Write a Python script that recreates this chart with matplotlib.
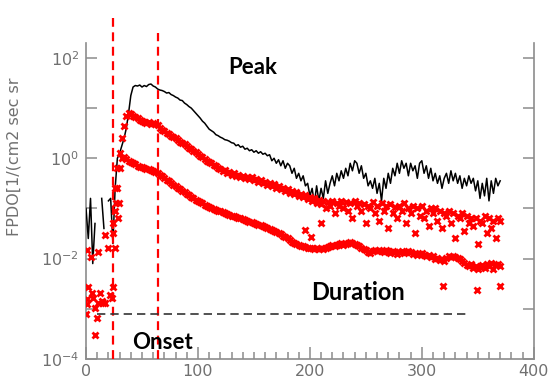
import numpy as np
import matplotlib
matplotlib.use('Agg')
import matplotlib.pyplot as plt
from matplotlib.ticker import FixedLocator, MultipleLocator, FuncFormatter

# ---- data (log10 of flux) ----
black_x = np.arange(0, 372, 2)
black_log = [
    -1.0, -1.6, -0.8, -2.1, -1.3, np.nan, np.nan, -0.8, -1.4, np.nan,
    -0.85, -0.8, -1.7, -0.6, 0.0, 0.1, 0.25, 0.4, 0.6, 0.9,
    1.25, 1.42, 1.45, 1.44, 1.46, 1.42, 1.45, 1.43, 1.47, 1.48,
    1.44, 1.42, 1.38, 1.36, 1.35, 1.33, 1.3, 1.31, 1.27, 1.25,
    1.22, 1.2, 1.16, 1.15, 1.1, 1.07, 1.03, 1.0, 0.95, 0.9,
    0.85, 0.8, 0.74, 0.7, 0.64, 0.58, 0.55, 0.52, 0.47, 0.45,
    0.42, 0.4, 0.37, 0.36, 0.34, 0.31, 0.3, 0.25, 0.27, 0.22,
    0.24, 0.18, 0.2, 0.15, 0.17, 0.12, 0.15, 0.1, 0.13, 0.08,
    0.1, 0.05, 0.07, -0.05, 0.0, -0.1, -0.03, -0.15, -0.05, -0.2,
    -0.1, -0.15, -0.3, -0.2, -0.4, -0.3, -0.45, -0.35, -0.55, -0.5,
    -0.75, -0.6, -0.9, -0.55, -0.85, -0.6, -0.8, -0.45, -0.7, -0.5,
    -0.35, -0.55, -0.3, -0.45, -0.25, -0.4, -0.2, -0.35, -0.1, -0.25,
    -0.05, -0.1, -0.3, -0.15, -0.4, -0.3, -0.55, -0.45, -0.6, -0.4,
    -0.7, -0.5, -0.85, -0.4, -0.6, -0.3, -0.5, -0.2, -0.35, -0.1,
    -0.3, -0.05, -0.2, -0.1, -0.35, -0.1, -0.25, -0.15, -0.4, -0.1,
    -0.05, -0.3, -0.15, -0.4, -0.2, -0.45, -0.3, -0.5, -0.35, -0.6,
    -0.4, -0.3, -0.5, -0.25, -0.45, -0.3, -0.5, -0.35, -0.6, -0.4,
    -0.55, -0.35, -0.5, -0.4, -0.65, -0.45, -0.8, -0.5, -0.75, -0.4,
    -0.85, -0.45, -0.7, -0.4, -0.55, -0.45,
]

upper_x = np.arange(26, 372, 2)
upper_log = [
    -0.6, -0.2, 0.1, 0.4, 0.65, 0.85, 0.9, 0.88, 0.85, 0.82,
    0.8, 0.76, 0.74, 0.72, 0.7, 0.72, 0.68, 0.7, 0.68, 0.66,
    0.6, 0.56, 0.55, 0.5, 0.48, 0.45, 0.43, 0.4, 0.36, 0.33,
    0.3, 0.28, 0.24, 0.2, 0.18, 0.14, 0.12, 0.08, 0.05, 0.02,
    -0.02, -0.05, -0.08, -0.1, -0.14, -0.16, -0.2, -0.22, -0.25, -0.24,
    -0.3, -0.28, -0.33, -0.3, -0.36, -0.33, -0.38, -0.35, -0.4, -0.37,
    -0.42, -0.38, -0.44, -0.42, -0.47, -0.43, -0.5, -0.47, -0.53, -0.5,
    -0.56, -0.52, -0.6, -0.55, -0.62, -0.6, -0.66, -0.62, -0.7, -0.66,
    -0.72, -0.68, -0.76, -0.72, -0.78, -0.74, -0.82, -0.78, -0.86, -0.8,
    -0.9, -0.84, -0.92, -0.86, -1.0, -0.88, -0.95, -0.85, -1.1, -0.9,
    -0.95, -0.85, -1.0, -0.88, -1.05, -0.9, -1.2, -0.86, -0.95, -0.9,
    -1.05, -0.92, -1.3, -0.95, -1.0, -0.88, -1.1, -0.95, -1.25, -0.9,
    -1.05, -0.95, -1.4, -0.92, -1.1, -0.98, -1.2, -0.95, -1.05, -0.9,
    -1.3, -1.0, -1.1, -0.95, -1.5, -1.0, -1.15, -0.95, -1.2, -1.05,
    -1.35, -1.0, -1.1, -1.0, -1.25, -1.05, -1.4, -1.1, -1.15, -1.05,
    -1.3, -1.1, -1.6, -1.15, -1.2, -1.1, -1.45, -1.15, -1.3, -1.2,
    -1.35, -1.2, -1.7, -1.25, -1.3, -1.15, -1.5, -1.2, -1.4, -1.25,
    -1.6, -1.2, -1.25,
]

lower_x = np.arange(28, 372, 2)
lower_log = [
    -0.6, -0.2, 0.0, 0.02, -0.02, -0.05, -0.08, -0.1, -0.12, -0.15,
    -0.17, -0.18, -0.2, -0.21, -0.22, -0.24, -0.26, -0.28, -0.3, -0.33,
    -0.36, -0.4, -0.43, -0.46, -0.5, -0.53, -0.56, -0.59, -0.62, -0.65,
    -0.68, -0.71, -0.74, -0.77, -0.8, -0.83, -0.86, -0.88, -0.9, -0.93,
    -0.95, -0.97, -0.99, -1.01, -1.03, -1.05, -1.06, -1.08, -1.1, -1.11,
    -1.13, -1.15, -1.16, -1.18, -1.2, -1.2, -1.22, -1.24, -1.25, -1.27,
    -1.28, -1.3, -1.31, -1.33, -1.34, -1.36, -1.38, -1.4, -1.42, -1.44,
    -1.46, -1.48, -1.5, -1.52, -1.55, -1.58, -1.6, -1.63, -1.66, -1.68,
    -1.7, -1.72, -1.74, -1.75, -1.77, -1.78, -1.78, -1.79, -1.8, -1.78,
    -1.8, -1.79, -1.8, -1.78, -1.76, -1.74, -1.73, -1.75, -1.72, -1.7,
    -1.69, -1.72, -1.7, -1.68, -1.66, -1.68, -1.7, -1.72, -1.75, -1.78,
    -1.8, -1.83, -1.86, -1.88, -1.85, -1.83, -1.85, -1.82, -1.84, -1.86,
    -1.83, -1.85, -1.88, -1.84, -1.86, -1.9, -1.87, -1.85, -1.88, -1.86,
    -1.84, -1.87, -1.9, -1.88, -1.92, -1.9, -1.88, -1.92, -1.95, -1.92,
    -1.97, -1.95, -2.0, -1.98, -2.02, -2.0, -2.05, -1.98, -1.95, -1.97,
    -1.94, -1.96, -1.98, -2.0, -2.04, -2.08, -2.12, -2.15, -2.1, -2.18,
    -2.14, -2.2, -2.16, -2.12, -2.18, -2.1, -2.15, -2.08, -2.2, -2.12,
    -2.1, -2.15,
]

# scattered background points before onset and a few stray points
stray_x = [0, 0.5, 1, 1, 2, 4, 5, 6, 8, 8, 9.5, 11, 11, 12.5, 14, 15, 17, 17,
           20, 21, 23, 24, 24, 24, 26, 26, 27, 29, 29.5,
           196, 201, 210, 319, 349, 370]
stray_log = [-3.1, -2.9, -1.82, -2.8, -2.56, -1.96, -2.68, -2.78, -2.98, -3.52,
             -3.18, -1.86, -2.88, -2.68, -2.85, -2.88, -1.53, -2.88, -1.78, -2.72,
             -2.78, -1.49, -2.56, -1.3, -1.78, -1.05, -0.9, -1.19, -0.89,
             -1.43, -1.57, -1.29, -2.54, -2.62, -2.54]

onset_x = 24
peak_x = 64
onset_top, peak_top = 10 ** 2.8, 10 ** 2.5
duration_level = 8e-4
duration_span = (10, 343)

# ---- figure ----
plt.rcParams['mathtext.fontset'] = 'dejavusans'
fig = plt.figure(figsize=(5.48, 3.83), dpi=100)
ax = fig.add_axes([0.157, 0.063, 0.817, 0.825])

ax.plot(black_x, 10 ** np.array(black_log), color='black', lw=1.1, zorder=3)

red_kw = dict(ls='none', marker='x', ms=4, mew=2, color='#ff0000', zorder=4)
ax.plot(upper_x, 10 ** np.array(upper_log), **red_kw)
ax.plot(lower_x, 10 ** np.array(lower_log), **red_kw)
ax.plot(stray_x, 10 ** np.array(stray_log), **red_kw)

# onset / peak markers reaching above the frame
ax.plot([onset_x, onset_x], [1e-4, onset_top], color='#ff0000', lw=1.6,
        ls=(0, (4, 2.5)), clip_on=False, zorder=5)
ax.plot([peak_x, peak_x], [1e-4, peak_top], color='#ff0000', lw=1.6,
        ls=(0, (4, 2.5)), clip_on=False, zorder=5)

# duration line
ax.plot(duration_span, [duration_level, duration_level], color='#333333',
        lw=1.2, ls=(0, (5, 3)), zorder=5)

txt_kw = dict(fontfamily='Lato', fontweight='bold', fontsize=16,
              ha='center', va='center', color='black', zorder=6)
ax.text(149, 10 ** 1.8, 'Peak', **txt_kw)
ax.text(68, 10 ** -3.68, 'Onset', **txt_kw)
ax.text(243, 10 ** -2.68, 'Duration', fontsize=17,
        **{k: v for k, v in txt_kw.items() if k != 'fontsize'})

# ---- axes styling (IDL look) ----
ax.set_yscale('log')
ax.set_xlim(0, 400)
ax.set_ylim(1e-4, 10 ** 2.3)

gray = '#8c8c8c'
for side in ['left', 'right', 'bottom']:
    ax.spines[side].set_color(gray)
    ax.spines[side].set_linewidth(1.2)
ax.spines['top'].set_visible(False)

ax.xaxis.set_major_locator(MultipleLocator(100))
ax.xaxis.set_minor_locator(MultipleLocator(10))
ax.yaxis.set_major_locator(FixedLocator([10.0 ** k for k in range(-4, 3)]))
ax.yaxis.set_minor_locator(FixedLocator([]))


def ylab(v, pos):
    k = int(round(np.log10(v)))
    return r'$10^{%d}$' % k if k % 2 == 0 else ''


ax.yaxis.set_major_formatter(FuncFormatter(ylab))
ax.tick_params(axis='x', which='major', direction='in', length=9, width=1.1,
               color=gray, labelcolor='#707070', labelsize=11.5, pad=4)
ax.tick_params(axis='x', which='minor', direction='in', length=5, width=1.1,
               color=gray)
ax.tick_params(axis='y', which='major', direction='in', length=8, width=1.1,
               color=gray, labelcolor='#707070', labelsize=11.5, pad=5,
               right=True)

ax.set_ylabel('FPDO[1/(cm2 sec sr', color='#707070', fontsize=11.5)
ax.yaxis.set_label_coords(-0.145, 0.64)

fig.savefig('out.png', dpi=100)
